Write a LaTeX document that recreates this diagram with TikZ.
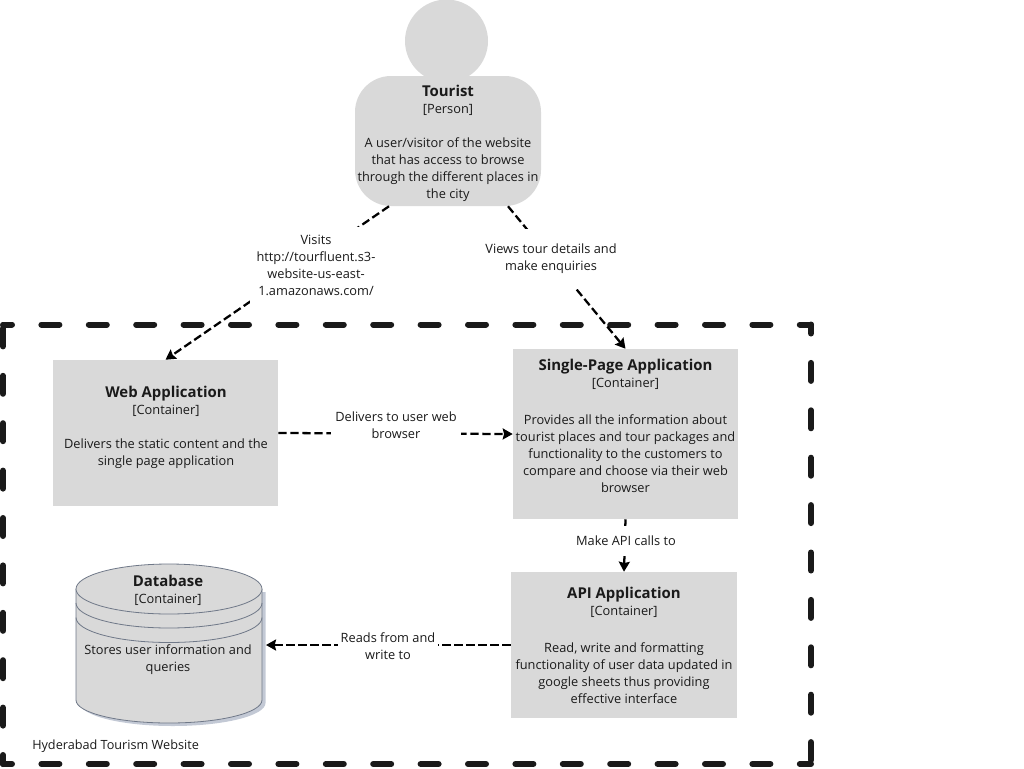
\documentclass[tikz,border=0pt]{standalone}
\usepackage{fontspec}
\setmainfont{Open Sans}
\usetikzlibrary{arrows.meta}
\definecolor{boxgray}{HTML}{D9D9D9}
\definecolor{dbline}{HTML}{6F7888}
\definecolor{dbshadow}{HTML}{C3C9D5}
\definecolor{labelink}{HTML}{1A1A1A}
\tikzset{
    container/.style={fill=boxgray, rectangle, inner sep=0pt},
    boxtext/.style={align=center, inner sep=0pt, text=labelink, font=\fontsize{9.6}{12.75}\selectfont},
    flowlabel/.style={fill=white, rectangle, inner sep=0pt, align=center, text=labelink, font=\fontsize{9.6}{12.75}\selectfont},
    flow/.style={-{Stealth[length=7.5pt,width=8.25pt,inset=1pt]}, line width=1.7pt, dash pattern=on 6.2pt off 2.8pt},
    boundary/.style={line width=4.5pt, line cap=round, dash pattern=on 13.5pt off 22.05pt, dash phase=6.75pt, color=labelink},
    dbedge/.style={fill=boxgray, draw=dbline, line width=0.6pt},
}
\newcommand{\boxtitle}[1]{{\fontsize{11.2}{12.75}\selectfont\bfseries #1}}
\begin{document}
\begin{tikzpicture}[x=0.75pt, y=-0.75pt]
    \useasboundingbox (0,0) rectangle (1024,768);

    % boundary
    \coordinate (nw) at (3,324.5);
    \coordinate (ne) at (811,324.5);
    \coordinate (se) at (811,764);
    \coordinate (sw) at (3,764);
    \foreach \from/\to in {nw/ne, ne/se, sw/nw, sw/se}
        \draw[boundary] (\from) -- (\to);

    % person
    \fill[boxgray] (446.5,41) circle (41.5);
    \node[container, minimum width=139.5pt, minimum height=97.5pt, rounded corners=27pt] (tourist) at (448,141) {};
    \node[boxtext] (touristtext) at (448,143) {\boxtitle{Tourist}\\{}[Person]\\[12.75pt]A user/visitor of the website\\that has access to browse\\through the different places in\\the city};

    % containers
    \node[container, minimum width=168.75pt, minimum height=109.5pt] (web) at (165.5,433) {};
    \node[boxtext] (webtext) at (166,427.5) {\boxtitle{Web Application}\\{}[Container]\\[12.75pt]Delivers the static content and the\\single page application};
    \node[container, minimum width=168.75pt, minimum height=127.5pt] (spa) at (625.5,434) {};
    \node[boxtext] (spatext) at (625.5,426) {\boxtitle{Single-Page Application}\\{}[Container]\\[15pt]Provides all the information about\\tourist places and tour packages and\\functionality to the customers to\\compare and choose via their web\\browser};
    \node[container, minimum width=169.5pt, minimum height=109.5pt] (api) at (624,645) {};
    \node[boxtext] (apitext) at (624,645) {\boxtitle{API Application}\\{}[Container]\\[15pt]Read, write and formatting\\functionality of user data updated in\\google sheets thus providing\\effective interface};

    % database
    \fill[dbshadow] (80,592) -- (265.5,592) -- (265.5,703) arc[start angle=0, end angle=-180, x radius=92.75, y radius=-23] -- cycle;
    \draw[dbedge] (76,589) -- (76,700) arc[start angle=180, end angle=360, x radius=93, y radius=-23] -- (262,589);
    \draw[dbedge] (76,589) arc[start angle=180, end angle=0, x radius=93, y radius=-25] arc[start angle=0, end angle=-180, x radius=93, y radius=-25];
    \draw[dbedge, fill=none] (76,603) arc[start angle=180, end angle=360, x radius=93, y radius=-25];
    \draw[dbedge, fill=none] (76,617.5) arc[start angle=180, end angle=360, x radius=93, y radius=-25];
    \node[boxtext] (database) at (168,624.5) {\boxtitle{Database}\\{}[Container]\\[25.5pt]Stores user information and\\queries};
    \coordinate (dbside) at (266,645);

    % connectors, the labels are drawn over them
    \draw[flow] ([xshift=-44.25pt]tourist.south) -- (web.north);
    \draw[flow] ([xshift=45pt]tourist.south) -- (spa.north);
    \draw[flow] (web.east) -- (spa.west);
    \draw[flow] (spa.south) -- (api.north);
    \draw[flow] (api.west) -- (dbside);

    \node[flowlabel, minimum width=99pt, minimum height=57.75pt] (visits) at (316,265.5) {Visits\\http://tourfluent.s3-\\website-us-east-\\1.amazonaws.com/};
    \node[flowlabel, minimum width=100pt, minimum height=45pt] (views) at (551,258.5) {Views tour details and\\make enquiries};
    \node[flowlabel, minimum width=97.5pt, minimum height=30pt] (delivers) at (396,425) {Delivers to user web\\browser};
    \node[flowlabel, minimum width=80pt, minimum height=22.5pt] (apicalls) at (626,541) {Make API calls to};
    \node[flowlabel, minimum width=75pt, minimum height=30pt] (reads) at (388,646) {Reads from and\\write to};

    \node[text=labelink, inner sep=0pt, anchor=west, font=\fontsize{9.5}{12.75}\selectfont] (system) at (32,746.5) {Hyderabad Tourism Website};
\end{tikzpicture}
\end{document}
